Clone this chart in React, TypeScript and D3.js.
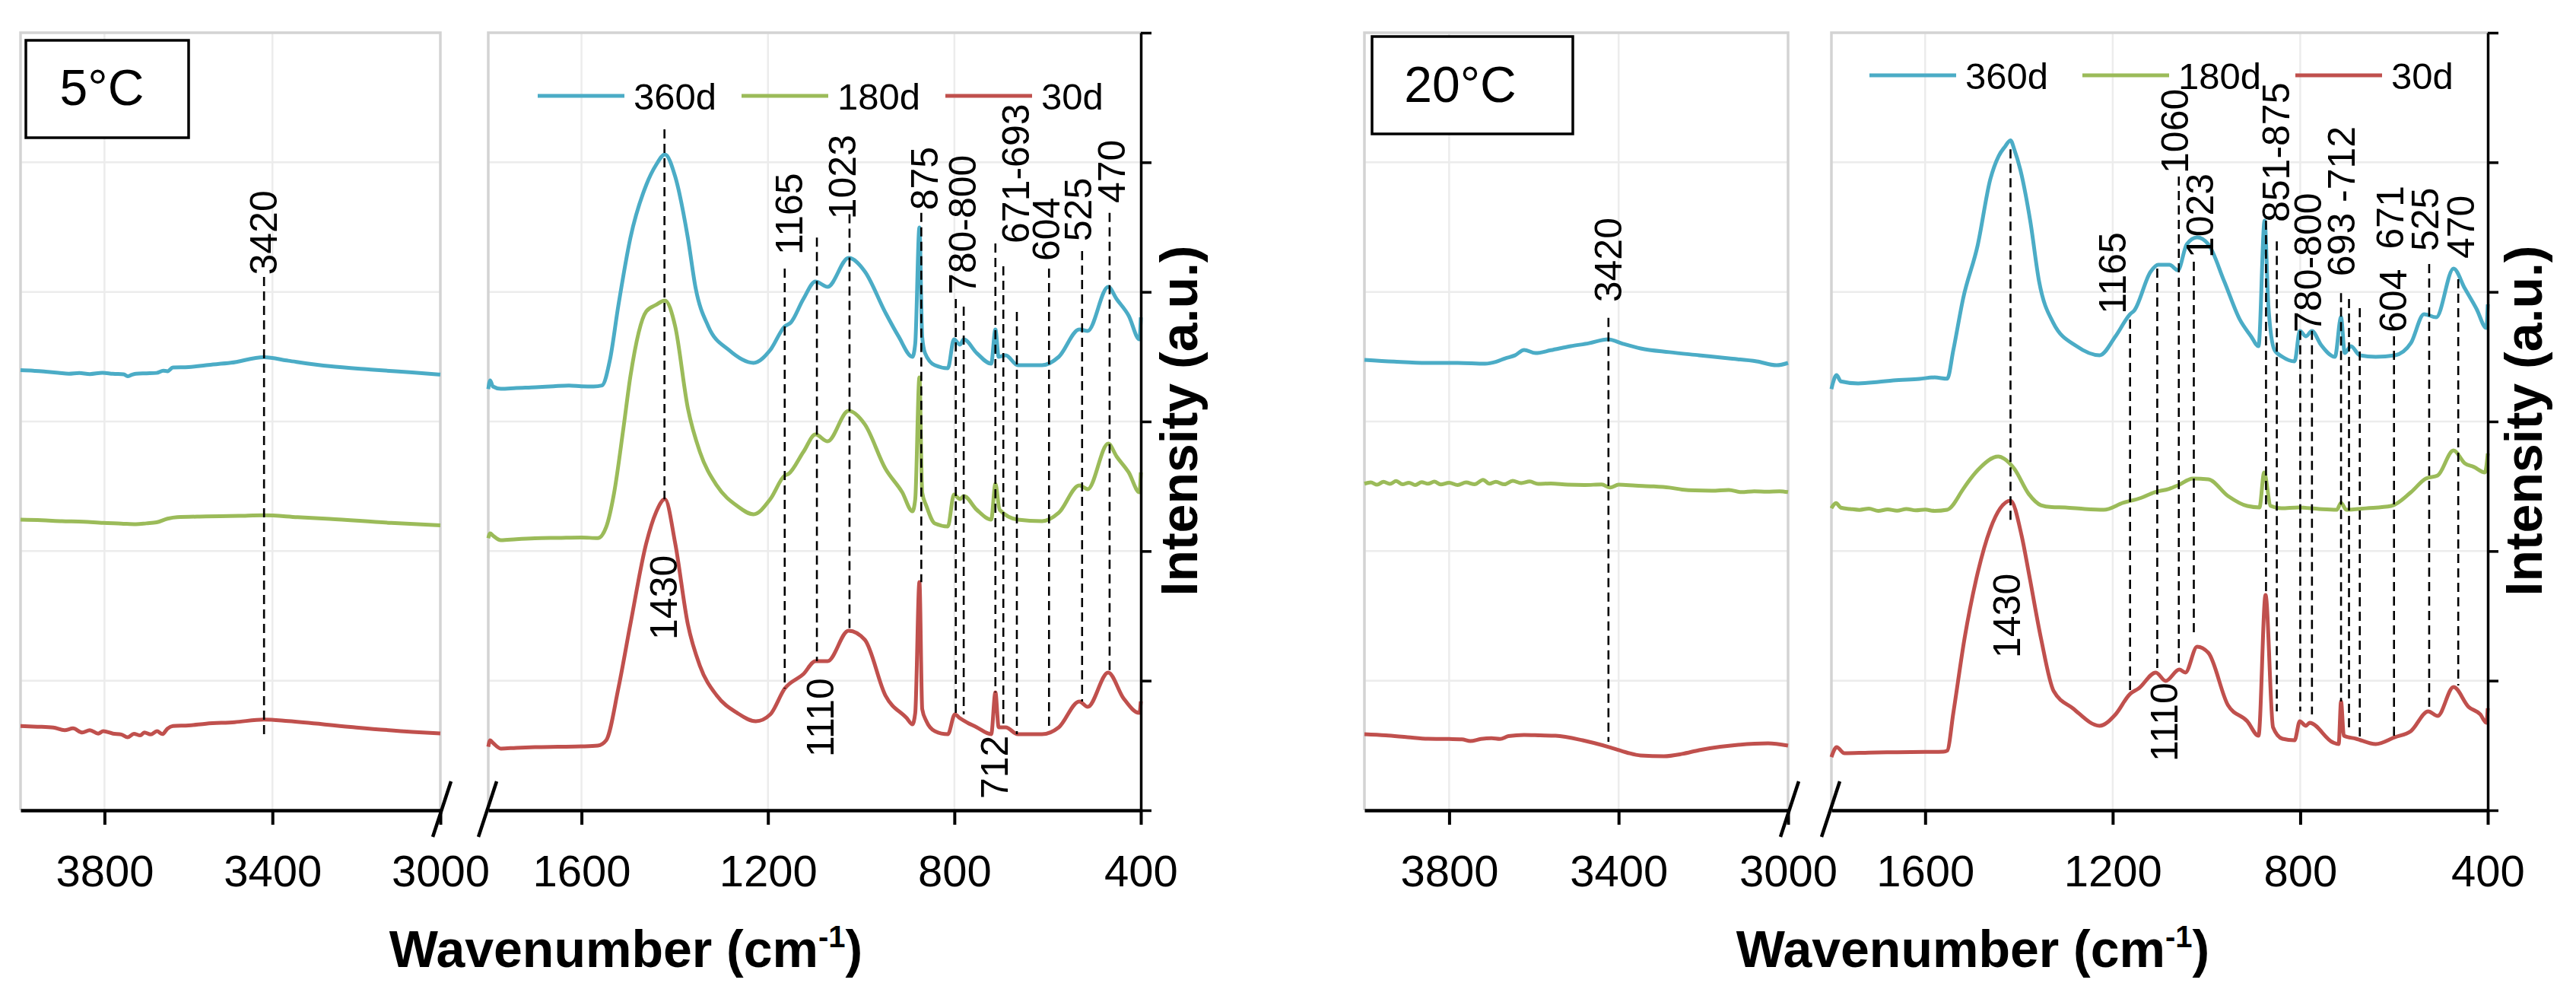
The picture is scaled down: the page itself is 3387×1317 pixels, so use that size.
import { useEffect, useRef } from 'react';
import * as d3 from 'd3';

type Pt = [number, number];
type Mark = { wn: number; top: number; bottom: number };
type Label = { text: string; wn: number; y: number };

// Legend / axes
const seriesNames = ['360d', '180d', '30d'];
const seriesColors = ['#4bacc6', '#9bbb59', '#c0504d'];
const highTicks = [3800, 3400, 3000];
const lowTicks = [1600, 1200, 800, 400];
const intensityTicks = [0, 1, 2, 3, 4, 5, 6];
const panelTitles = ['5°C', '20°C'];

// ---- 5 °C, 4000–3000 cm-1 ----
const c5High360: Pt[] = [
  [4000, 3.396], [3970, 3.392], [3940, 3.384], [3910, 3.376], [3885, 3.368], [3860, 3.374],
  [3835, 3.366], [3805, 3.376], [3780, 3.368], [3754, 3.364], [3745, 3.349], [3735, 3.36],
  [3725, 3.369], [3700, 3.372], [3676, 3.375], [3660, 3.392], [3650, 3.388], [3637, 3.417],
  [3600, 3.42], [3558, 3.435], [3499, 3.453], [3420, 3.496], [3362, 3.469], [3264, 3.427],
  [3166, 3.401], [3067, 3.378], [3000, 3.362],
];
const c5High180: Pt[] = [
  [4000, 2.242], [3950, 2.238], [3902, 2.231], [3850, 2.226], [3803, 2.217], [3760, 2.212],
  [3725, 2.207], [3700, 2.214], [3676, 2.222], [3650, 2.25], [3627, 2.262], [3558, 2.267],
  [3480, 2.272], [3420, 2.277], [3340, 2.262], [3264, 2.249], [3117, 2.217], [3000, 2.199],
];
const c5High30: Pt[] = [
  [4000, 0.65], [3960, 0.645], [3922, 0.638], [3895, 0.618], [3875, 0.632], [3853, 0.6],
  [3835, 0.618], [3815, 0.592], [3803, 0.61], [3780, 0.592], [3760, 0.585], [3745, 0.563],
  [3730, 0.59], [3715, 0.578], [3705, 0.6], [3690, 0.585], [3675, 0.61], [3662, 0.588],
  [3650, 0.63], [3637, 0.65], [3600, 0.655], [3558, 0.668], [3490, 0.68], [3420, 0.7],
  [3362, 0.688], [3214, 0.643], [3067, 0.605], [3000, 0.593],
];

// ---- 5 °C, 1800–400 cm-1 ----
const c5Low360: Pt[] = [
  [1800, 3.25], [1796, 3.317], [1790, 3.27], [1773, 3.252], [1740, 3.258], [1698, 3.264],
  [1660, 3.272], [1627, 3.278], [1600, 3.272], [1574, 3.27], [1556, 3.278], [1539, 3.475],
  [1521, 3.893], [1495, 4.418], [1461, 4.826], [1440, 4.98], [1421, 5.061], [1399, 4.89],
  [1372, 4.421], [1355, 4.027], [1328, 3.734], [1284, 3.552], [1231, 3.452], [1195, 3.552],
  [1164, 3.734], [1151, 3.763], [1124, 3.945], [1098, 4.08], [1072, 4.039], [1027, 4.262],
  [992, 4.157], [948, 3.84], [920, 3.658], [890, 3.499], [884, 3.6], [875, 4.497],
  [869, 3.65], [863, 3.528], [842, 3.434], [814, 3.411], [801, 3.634], [788, 3.593],
  [780, 3.634], [752, 3.528], [721, 3.446], [712, 3.71], [705, 3.499], [690, 3.511],
  [664, 3.434], [612, 3.434], [576, 3.499], [532, 3.71], [514, 3.699], [470, 4.039],
  [452, 3.945], [426, 3.816], [403, 3.634], [400, 3.804],
];
const c5Low180: Pt[] = [
  [1800, 2.1], [1796, 2.137], [1790, 2.12], [1773, 2.084], [1740, 2.092], [1700, 2.099],
  [1650, 2.102], [1600, 2.105], [1565, 2.1], [1547, 2.186], [1530, 2.45], [1510, 2.95],
  [1495, 3.35], [1461, 3.85], [1440, 3.9], [1421, 3.934], [1399, 3.734], [1372, 3.106],
  [1346, 2.765], [1310, 2.507], [1266, 2.348], [1231, 2.284], [1195, 2.401], [1164, 2.583],
  [1156, 2.595], [1124, 2.765], [1098, 2.9], [1072, 2.847], [1027, 3.082], [992, 2.977],
  [948, 2.636], [912, 2.454], [890, 2.307], [884, 2.4], [875, 3.341], [869, 2.45],
  [860, 2.348], [842, 2.213], [814, 2.19], [801, 2.436], [788, 2.401], [780, 2.425],
  [752, 2.319], [721, 2.243], [712, 2.519], [703, 2.319], [664, 2.243], [612, 2.231],
  [576, 2.296], [532, 2.507], [514, 2.478], [470, 2.83], [452, 2.73], [426, 2.607],
  [403, 2.454], [400, 2.607],
];
const c5Low30: Pt[] = [
  [1800, 0.49], [1796, 0.54], [1790, 0.52], [1773, 0.476], [1740, 0.482], [1700, 0.487],
  [1650, 0.49], [1600, 0.493], [1565, 0.499], [1547, 0.54], [1521, 0.939], [1495, 1.438],
  [1461, 2.061], [1440, 2.3], [1421, 2.401], [1399, 2.061], [1372, 1.438], [1346, 1.115],
  [1310, 0.886], [1266, 0.751], [1226, 0.687], [1195, 0.74], [1164, 0.939], [1124, 1.051],
  [1098, 1.151], [1072, 1.151], [1027, 1.386], [992, 1.315], [948, 0.886], [902, 0.71],
  [890, 0.663], [884, 0.75], [875, 1.761], [869, 0.78], [860, 0.687], [842, 0.611],
  [814, 0.587], [799, 0.74], [788, 0.71], [752, 0.64], [721, 0.587], [712, 0.91],
  [705, 0.64], [690, 0.64], [664, 0.587], [612, 0.587], [576, 0.64], [532, 0.84],
  [514, 0.798], [470, 1.063], [437, 0.863], [403, 0.751], [400, 0.84],
];

// ---- 20 °C, 4000–3000 cm-1 ----
const c20High360: Pt[] = [
  [4000, 3.476], [3930, 3.462], [3853, 3.452], [3780, 3.452], [3715, 3.446], [3690, 3.46],
  [3668, 3.487], [3645, 3.51], [3623, 3.552], [3596, 3.528], [3560, 3.55], [3513, 3.581],
  [3470, 3.604], [3425, 3.634], [3390, 3.6], [3348, 3.564], [3280, 3.535], [3210, 3.511],
  [3140, 3.487], [3074, 3.464], [3027, 3.434], [3000, 3.452],
];
const c20High180: Pt[] = [
  [4000, 2.52], [3985, 2.53], [3970, 2.512], [3955, 2.535], [3940, 2.518], [3925, 2.54],
  [3910, 2.515], [3895, 2.528], [3880, 2.51], [3865, 2.532], [3850, 2.52], [3835, 2.536],
  [3820, 2.514], [3800, 2.527], [3780, 2.51], [3760, 2.53], [3740, 2.515], [3720, 2.55],
  [3705, 2.52], [3690, 2.535], [3670, 2.515], [3650, 2.542], [3630, 2.525], [3610, 2.537],
  [3590, 2.518], [3560, 2.522], [3520, 2.512], [3480, 2.51], [3440, 2.514], [3420, 2.49],
  [3400, 2.512], [3360, 2.505], [3320, 2.5], [3280, 2.49], [3250, 2.475], [3220, 2.468],
  [3180, 2.466], [3140, 2.472], [3110, 2.455], [3080, 2.462], [3050, 2.458], [3020, 2.462],
  [3000, 2.455],
];
const c20High30: Pt[] = [
  [4000, 0.587], [3950, 0.578], [3898, 0.564], [3850, 0.552], [3800, 0.55], [3770, 0.548],
  [3750, 0.534], [3725, 0.55], [3700, 0.556], [3680, 0.55], [3660, 0.572], [3623, 0.581],
  [3585, 0.578], [3549, 0.575], [3485, 0.54], [3422, 0.487], [3380, 0.445], [3348, 0.423],
  [3293, 0.417], [3250, 0.435], [3210, 0.464], [3160, 0.49], [3118, 0.505], [3047, 0.517],
  [3000, 0.499],
];

// ---- 20 °C, 1800–400 cm-1 ----
const c20Low360: Pt[] = [
  [1800, 3.25], [1797, 3.294], [1789, 3.358], [1780, 3.31], [1743, 3.294], [1700, 3.305],
  [1668, 3.317], [1612, 3.329], [1580, 3.34], [1553, 3.33], [1540, 3.55], [1519, 3.95],
  [1488, 4.36], [1461, 4.87], [1443, 5.05], [1430, 5.12], [1418, 5.17], [1410, 5.1],
  [1397, 4.943], [1376, 4.55], [1357, 4.08], [1327, 3.763], [1277, 3.581], [1228, 3.511],
  [1194, 3.658], [1163, 3.828], [1154, 3.857], [1119, 4.157], [1103, 4.209], [1079, 4.209],
  [1061, 4.168], [1042, 4.368], [1020, 4.421], [996, 4.368], [962, 4.08], [929, 3.787],
  [905, 3.658], [889, 3.581], [876, 4.55], [868, 3.893], [855, 3.552], [838, 3.499],
  [812, 3.464], [801, 3.699], [788, 3.658], [775, 3.699], [756, 3.593], [726, 3.499],
  [713, 3.804], [705, 3.528], [692, 3.581], [673, 3.511], [639, 3.499], [598, 3.511],
  [564, 3.605], [536, 3.828], [510, 3.804], [473, 4.18], [449, 4.027], [424, 3.869],
  [403, 3.722], [400, 3.904],
];
const c20Low180: Pt[] = [
  [1800, 2.33], [1797, 2.348], [1790, 2.37], [1780, 2.335], [1760, 2.325], [1740, 2.318],
  [1720, 2.328], [1700, 2.31], [1680, 2.322], [1660, 2.312], [1640, 2.325], [1620, 2.314],
  [1600, 2.32], [1580, 2.31], [1553, 2.319], [1519, 2.478], [1509, 2.53], [1488, 2.624],
  [1444, 2.73], [1431, 2.712], [1410, 2.636], [1379, 2.44], [1353, 2.354], [1330, 2.34],
  [1301, 2.337], [1260, 2.325], [1219, 2.319], [1178, 2.372], [1140, 2.41], [1111, 2.454],
  [1080, 2.48], [1061, 2.507], [1029, 2.56], [996, 2.554], [954, 2.425], [913, 2.348],
  [887, 2.337], [877, 2.607], [863, 2.348], [840, 2.33], [804, 2.337], [760, 2.325],
  [722, 2.319], [713, 2.372], [702, 2.319], [660, 2.33], [606, 2.348], [564, 2.454],
  [532, 2.56], [507, 2.583], [473, 2.777], [449, 2.677], [430, 2.65], [406, 2.607],
  [400, 2.754],
];
const c20Low30: Pt[] = [
  [1800, 0.41], [1797, 0.44], [1789, 0.487], [1772, 0.44], [1720, 0.445], [1660, 0.448],
  [1600, 0.45], [1561, 0.452], [1553, 0.46], [1540, 0.75], [1516, 1.327], [1488, 1.832],
  [1461, 2.172], [1440, 2.33], [1418, 2.39], [1394, 2.114], [1379, 1.832], [1353, 1.327],
  [1326, 0.92], [1285, 0.787], [1228, 0.652], [1194, 0.74], [1163, 0.898], [1145, 0.939],
  [1108, 1.063], [1087, 0.998], [1058, 1.086], [1045, 1.063], [1020, 1.262], [996, 1.215],
  [954, 0.81], [913, 0.687], [889, 0.575], [874, 1.661], [858, 0.64], [838, 0.552],
  [812, 0.54], [801, 0.687], [788, 0.652], [780, 0.675], [730, 0.523], [718, 0.511],
  [713, 0.84], [707, 0.575], [681, 0.552], [639, 0.511], [598, 0.564], [564, 0.611],
  [527, 0.763], [507, 0.728], [473, 0.951], [441, 0.798], [416, 0.74], [403, 0.675],
  [400, 0.787],
];

// ---- band markers (dashed guides) and their labels, in data units ----
const c5HighMarks: Mark[] = [{ wn: 3420, top: 4.116, bottom: 0.575 }];
const c5HighLabels: Label[] = [{ text: '3420', wn: 3420, y: 4.13 }];
const c5LowMarks: Mark[] = [
  { wn: 1422, top: 5.255, bottom: 2.4 },
  { wn: 1164, top: 4.18, bottom: 0.94 },
  { wn: 1095, top: 4.42, bottom: 1.15 },
  { wn: 1025, top: 4.6, bottom: 1.39 },
  { wn: 871, top: 4.61, bottom: 1.76 },
  { wn: 797, top: 3.945, bottom: 0.71 },
  { wn: 780, top: 3.886, bottom: 0.74 },
  { wn: 712, top: 4.374, bottom: 0.91 },
  { wn: 695, top: 4.198, bottom: 0.64 },
  { wn: 666, top: 3.845, bottom: 0.587 },
  { wn: 597, top: 4.18, bottom: 0.64 },
  { wn: 526, top: 4.315, bottom: 0.84 },
  { wn: 467, top: 4.61, bottom: 1.063 },
];
const c5LowLabels: Label[] = [
  { text: '1430', wn: 1423, y: 1.315 },
  { text: '1165', wn: 1154, y: 4.286 },
  { text: '1110', wn: 1087, y: 0.411 },
  { text: '1023', wn: 1040, y: 4.56 },
  { text: '875', wn: 863, y: 4.63 },
  { text: '780-800', wn: 782, y: 3.98 },
  { text: '712', wn: 713, y: 0.088 },
  { text: '671-693', wn: 668, y: 4.374 },
  { text: '604', wn: 602, y: 4.239 },
  { text: '525', wn: 534, y: 4.39 },
  { text: '470', wn: 462, y: 4.685 },
];

const c20HighMarks: Mark[] = [{ wn: 3424, top: 3.8, bottom: 0.528 }];
const c20HighLabels: Label[] = [{ text: '3420', wn: 3424, y: 3.92 }];
const c20LowMarks: Mark[] = [
  { wn: 1418, top: 5.1, bottom: 2.2 },
  { wn: 1163, top: 3.787, bottom: 0.898 },
  { wn: 1105, top: 4.18, bottom: 1.086 },
  { wn: 1059, top: 4.89, bottom: 1.115 },
  { wn: 1027, top: 4.233, bottom: 1.339 },
  { wn: 873, top: 4.55, bottom: 1.66 },
  { wn: 850, top: 4.39, bottom: 0.763 },
  { wn: 800, top: 3.7, bottom: 0.763 },
  { wn: 775, top: 3.7, bottom: 0.74 },
  { wn: 713, top: 3.99, bottom: 0.84 },
  { wn: 696, top: 3.945, bottom: 0.61 },
  { wn: 673, top: 3.875, bottom: 0.564 },
  { wn: 600, top: 3.658, bottom: 0.564 },
  { wn: 525, top: 4.215, bottom: 0.763 },
  { wn: 463, top: 4.098, bottom: 0.963 },
];
const c20LowLabels: Label[] = [
  { text: '1430', wn: 1426, y: 1.174 },
  { text: '1165', wn: 1199, y: 3.83 },
  { text: '1110', wn: 1090, y: 0.376 },
  { text: '1060', wn: 1066, y: 4.914 },
  { text: '1023', wn: 1014, y: 4.262 },
  { text: '851-875', wn: 851, y: 4.538 },
  { text: '780-800', wn: 783, y: 3.687 },
  { text: '693 -712', wn: 712, y: 4.12 },
  { text: '671', wn: 608, y: 4.33 },
  { text: '604', wn: 601, y: 3.687 },
  { text: '525', wn: 533, y: 4.315 },
  { text: '470', wn: 457, y: 4.256 },
];

const WIDTH = 3387;
const HEIGHT = 1317;
const Y_TOP = 43;
const Y_AXIS = 1065;
const FONT = "'Liberation Sans', Arial, Helvetica, sans-serif";
const GRID = '#ececec';
const FRAME = '#d3d3d3';

const panels = [
  {
    title: panelTitles[0],
    high: [c5High360, c5High180, c5High30],
    low: [c5Low360, c5Low180, c5Low30],
    highMarks: c5HighMarks,
    highLabels: c5HighLabels,
    lowMarks: c5LowMarks,
    lowLabels: c5LowLabels,
    hx: [27, 579],
    lx: [642, 1500],
    box: { x: 34, y: 53, w: 214, h: 128, tx: 134, ty: 138 },
    legend: { x: 707, y: 126, step: 268 },
    xTitle: 823,
    yTitle: 1574,
  },
  {
    title: panelTitles[1],
    high: [c20High360, c20High180, c20High30],
    low: [c20Low360, c20Low180, c20Low30],
    highMarks: c20HighMarks,
    highLabels: c20HighLabels,
    lowMarks: c20LowMarks,
    lowLabels: c20LowLabels,
    hx: [1794, 2351],
    lx: [2408, 3271],
    box: { x: 1804, y: 48, w: 264, h: 128, tx: 1920, ty: 134 },
    legend: { x: 2458, y: 99, step: 280 },
    xTitle: 2594,
    yTitle: 3342,
  },
];

export default function App() {
  const ref = useRef<SVGSVGElement | null>(null);

  useEffect(() => {
    const svg = d3.select(ref.current);
    svg.selectAll('*').remove();
    svg.append('rect').attr('width', WIDTH).attr('height', HEIGHT).attr('fill', '#fff');

    const y = d3.scaleLinear().domain([0, 6]).range([Y_AXIS, Y_TOP]);

    for (const p of panels) {
      const xh = d3.scaleLinear().domain([4000, 3000]).range(p.hx);
      const xl = d3.scaleLinear().domain([1800, 400]).range(p.lx);
      const g = svg.append('g');

      const parts = [
        { x: xh, ticks: highTicks, series: p.high, marks: p.highMarks, labels: p.highLabels, closed: true },
        { x: xl, ticks: lowTicks, series: p.low, marks: p.lowMarks, labels: p.lowLabels, closed: false },
      ];

      for (const part of parts) {
        const { x } = part;
        const [x0, x1] = x.range();

        // grid
        const grid = g.append('g').attr('stroke', GRID).attr('stroke-width', 2.5);
        grid.selectAll(null).data(intensityTicks.slice(1, -1)).enter().append('line')
          .attr('x1', x0).attr('x2', x1)
          .attr('y1', (d) => y(d)).attr('y2', (d) => y(d));
        grid.selectAll(null).data(part.ticks.filter((t) => x(t) > x0 + 2 && x(t) < x1 - 2)).enter().append('line')
          .attr('x1', (d) => x(d)).attr('x2', (d) => x(d))
          .attr('y1', Y_TOP).attr('y2', Y_AXIS);

        // plot-area frame (light grey)
        g.append('path')
          .attr('d', part.closed
            ? `M${x0},${Y_AXIS}V${Y_TOP}H${x1}V${Y_AXIS}`
            : `M${x0},${Y_AXIS}V${Y_TOP}H${x1}`)
          .attr('fill', 'none').attr('stroke', FRAME).attr('stroke-width', 3.5);

        // spectra
        const line = d3.line<Pt>()
          .x((d) => x(d[0]))
          .y((d) => y(d[1]))
          .curve(d3.curveMonotoneX);
        part.series.forEach((s, i) => {
          g.append('path')
            .attr('d', line(s) ?? '')
            .attr('fill', 'none')
            .attr('stroke', seriesColors[i])
            .attr('stroke-width', 5)
            .attr('stroke-linejoin', 'round');
        });

        // dashed band guides
        g.append('g').selectAll(null).data(part.marks).enter().append('line')
          .attr('x1', (d) => x(d.wn)).attr('x2', (d) => x(d.wn))
          .attr('y1', (d) => y(d.top)).attr('y2', (d) => y(d.bottom))
          .attr('stroke', '#000').attr('stroke-width', 2.6).attr('stroke-dasharray', '12 7');

        g.append('g').selectAll(null).data(part.labels).enter().append('text')
          .attr('x', (d) => x(d.wn)).attr('y', (d) => y(d.y))
          .attr('transform', (d) => `rotate(-90 ${x(d.wn)} ${y(d.y)})`)
          .attr('dominant-baseline', 'central')
          .attr('font-family', FONT).attr('font-size', 50).attr('fill', '#000')
          .text((d) => d.text);

        // x axis
        const axis = d3.axisBottom(x)
          .tickValues(part.ticks)
          .tickSize(19)
          .tickSizeOuter(0)
          .tickPadding(40)
          .tickFormat(d3.format('d'));
        const ax = g.append('g').attr('transform', `translate(0,${Y_AXIS})`).call(axis);
        ax.select('.domain').attr('stroke', '#000').attr('stroke-width', 4.5);
        ax.selectAll('.tick line').attr('stroke', '#000').attr('stroke-width', 4);
        ax.selectAll('.tick text')
          .attr('font-family', FONT).attr('font-size', 58).attr('fill', '#000');
      }

      // right intensity axis, ticks only
      const yAxis = d3.axisRight(y).tickValues(intensityTicks).tickSize(14).tickSizeOuter(0).tickFormat(() => '');
      const ay = g.append('g').attr('transform', `translate(${p.lx[1]},0)`).call(yAxis);
      ay.select('.domain').attr('stroke', '#000').attr('stroke-width', 3.5);
      ay.selectAll('.tick line').attr('stroke', '#000').attr('stroke-width', 3.5);

      // axis break marks
      for (const cx of [p.hx[1] + 2, p.lx[0] - 1]) {
        g.append('line')
          .attr('x1', cx + 12).attr('y1', Y_AXIS - 38)
          .attr('x2', cx - 12).attr('y2', Y_AXIS + 35)
          .attr('stroke', '#000').attr('stroke-width', 4.5);
      }

      // legend
      const lg = g.append('g').attr('transform', `translate(${p.legend.x},${p.legend.y})`);
      seriesNames.forEach((name, i) => {
        lg.append('line')
          .attr('x1', i * p.legend.step).attr('x2', i * p.legend.step + 114)
          .attr('y1', 0).attr('y2', 0)
          .attr('stroke', seriesColors[i]).attr('stroke-width', 5);
        lg.append('text')
          .attr('x', i * p.legend.step + 126).attr('y', 18)
          .attr('font-family', FONT).attr('font-size', 49).attr('fill', '#000')
          .text(name);
      });

      // temperature box
      g.append('rect')
        .attr('x', p.box.x).attr('y', p.box.y).attr('width', p.box.w).attr('height', p.box.h)
        .attr('fill', '#fff').attr('stroke', '#000').attr('stroke-width', 3.5);
      g.append('text')
        .attr('x', p.box.tx).attr('y', p.box.ty)
        .attr('text-anchor', 'middle')
        .attr('font-family', FONT).attr('font-size', 66).attr('fill', '#000')
        .text(p.title);

      // axis titles
      const xt = g.append('text')
        .attr('x', p.xTitle).attr('y', 1271)
        .attr('text-anchor', 'middle')
        .attr('font-family', FONT).attr('font-size', 68).attr('font-weight', 'bold').attr('fill', '#000');
      xt.append('tspan').text('Wavenumber (cm');
      xt.append('tspan').attr('dy', -26).attr('font-size', 40).text('-1');
      xt.append('tspan').attr('dy', 26).text(')');

      g.append('text')
        .attr('x', p.yTitle).attr('y', 553)
        .attr('transform', `rotate(-90 ${p.yTitle} 553)`)
        .attr('text-anchor', 'middle')
        .attr('font-family', FONT).attr('font-size', 68).attr('font-weight', 'bold').attr('fill', '#000')
        .text('Intensity (a.u.)');
    }
  }, []);

  return (
    <div style={{ position: 'absolute', left: 0, top: 0 }}>
      <svg ref={ref} width={WIDTH} height={HEIGHT} style={{ display: 'block' }} />
    </div>
  );
}
